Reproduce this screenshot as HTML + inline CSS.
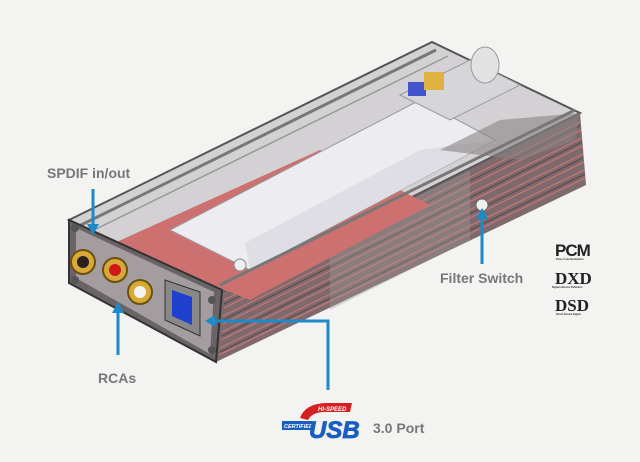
<!DOCTYPE html>
<html><head><meta charset="utf-8"><style>
html,body{margin:0;padding:0;background:#f3f3f1;}
svg{display:block}
text{font-family:"Liberation Sans",sans-serif;font-weight:bold;}
</style></head><body>
<svg width="640" height="462" viewBox="0 0 640 462" xmlns="http://www.w3.org/2000/svg">
<rect width="640" height="462" fill="#f3f3f1"/>
<!-- side face -->
<polygon points="222,292 580,113 586,185 216,362" fill="#7e6a6c"/>
<g stroke="#c87878" stroke-width="1.4" opacity="0.85">
<line x1="224" y1="300" x2="580" y2="122"/><line x1="224" y1="308" x2="581" y2="130"/>
<line x1="223" y1="316" x2="582" y2="138"/><line x1="223" y1="324" x2="582" y2="146"/>
<line x1="222" y1="332" x2="583" y2="154"/><line x1="221" y1="340" x2="584" y2="162"/>
<line x1="220" y1="348" x2="584" y2="170"/><line x1="219" y1="355" x2="585" y2="178"/>
</g>
<g stroke="#3a3032" stroke-width="1" opacity="0.6">
<line x1="224" y1="304" x2="580" y2="126"/><line x1="223" y1="320" x2="582" y2="142"/>
<line x1="222" y1="336" x2="583" y2="158"/><line x1="220" y1="352" x2="585" y2="174"/>
</g>
<polygon points="330,240 470,170 470,240 330,310" fill="#a09a9c" opacity="0.35"/>
<!-- top face -->
<polygon points="69,220 432,42 580,113 222,292" fill="#d3d1d3" stroke="#555" stroke-width="2"/>
<!-- red pcb -->
<polygon points="110,245 320,150 430,205 250,300 230,292 150,270" fill="#cc7070"/>
<!-- battery block -->
<polygon points="170,230 420,100 495,140 250,270" fill="#ededf1" stroke="#999"/>
<polygon points="245,243 420,150 495,140 250,270" fill="#dedee4"/>
<!-- back components -->
<polygon points="400,95 470,60 520,85 450,120" fill="#d6d6da" stroke="#999"/>
<rect x="408" y="82" width="18" height="14" fill="#4455cc"/>
<rect x="424" y="72" width="20" height="18" fill="#e0b040"/>
<ellipse cx="485" cy="65" rx="14" ry="18" fill="#e2e2e2" stroke="#999"/>
<polygon points="440,150 500,120 580,113 575,140 520,160" fill="#8a8284" opacity="0.6"/>
<!-- top edge frame lines -->
<line x1="75" y1="228" x2="436" y2="50" stroke="#777" stroke-width="3"/>
<line x1="90" y1="232" x2="448" y2="56" stroke="#999" stroke-width="1.5"/>
<line x1="220" y1="285" x2="575" y2="110" stroke="#777" stroke-width="3"/>
<!-- front face -->
<polygon points="69,220 222,290 216,362 69,283" fill="#6a6466" stroke="#333" stroke-width="2"/>
<polygon points="76,228 214,292 210,354 76,278" fill="#a39d9f"/>
<!-- RCAs -->
<circle cx="83" cy="262" r="12" fill="#d8a838" stroke="#6b5010" stroke-width="2"/><circle cx="83" cy="262" r="6" fill="#2a2020"/>
<circle cx="115" cy="270" r="12" fill="#d8a838" stroke="#6b5010" stroke-width="2"/><circle cx="115" cy="270" r="6" fill="#d01818"/>
<circle cx="140" cy="292" r="12" fill="#d8a838" stroke="#6b5010" stroke-width="2"/><circle cx="140" cy="292" r="6" fill="#f4f4f4"/>
<!-- usb port -->
<polygon points="165,280 200,292 200,336 165,320" fill="#888" stroke="#333"/>
<polygon points="172,290 192,297 192,325 172,316" fill="#2040d0"/>
<circle cx="240" cy="265" r="6" fill="#eee" stroke="#888"/>
<!-- corner bolts -->
<circle cx="75" cy="228" r="4" fill="#555"/><circle cx="75" cy="280" r="4" fill="#555"/>
<circle cx="212" cy="300" r="4" fill="#555"/><circle cx="212" cy="350" r="4" fill="#555"/>
<!-- filter switch -->
<circle cx="482" cy="205" r="6" fill="#eee" stroke="#666"/>
<!-- arrows -->
<g stroke="#1e8ac8" stroke-width="3" fill="none">
<line x1="93" y1="189" x2="93" y2="225"/>
<line x1="118" y1="355" x2="118" y2="312"/>
<line x1="482" y1="264" x2="482" y2="218"/>
<polyline points="328,390 328,321 214,321"/>
</g>
<g fill="#1e8ac8">
<polygon points="87,224 99,224 93,235"/>
<polygon points="112,313 124,313 118,302"/>
<polygon points="476,219 488,219 482,208"/>
<polygon points="215,315 215,327 205,321"/>
</g>
<!-- labels -->
<text x="47" y="178" font-size="14" fill="#777">SPDIF in/out</text>
<text x="98" y="383" font-size="14" fill="#777">RCAs</text>
<text x="440" y="283" font-size="14" fill="#777">Filter Switch</text>
<text x="373" y="433" font-size="14" fill="#777">3.0 Port</text>
<!-- usb logo -->
<path d="M300,418 Q305,404 325,403 L352,403 L350,412 L325,412 Q312,412 308,420 Z" fill="#d42020"/>
<text x="318" y="411" font-size="6" fill="#fff" font-style="italic">HI-SPEED</text>
<rect x="282" y="421" width="30" height="9" fill="#1a5fc0"/>
<text x="284" y="428" font-size="5.5" fill="#fff" font-style="italic">CERTIFIED</text>
<text x="309" y="438" font-size="24" fill="#1a5fc0" font-style="italic" font-weight="bold" stroke="#1a5fc0" stroke-width="0.8">USB</text>
<!-- format logos -->
<text x="555" y="256" font-size="17" fill="#222" style="letter-spacing:-1px">PCM</text>
<text x="556" y="260" font-size="2.5" fill="#333">Pulse Code Modulation</text>
<text x="555" y="284" font-size="17" fill="#222" style="font-family:'Liberation Serif',serif">DXD</text>
<text x="552" y="288" font-size="2.5" fill="#333">Digital eXtreme Definition</text>
<text x="555" y="311" font-size="17" fill="#222" style="font-family:'Liberation Serif',serif">DSD</text>
<text x="556" y="315" font-size="2.5" fill="#333">Direct Stream Digital</text>
</svg>
</body></html>
